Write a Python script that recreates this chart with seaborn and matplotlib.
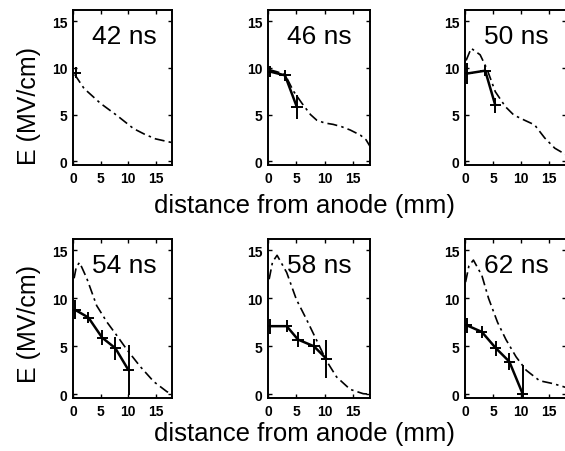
import matplotlib
matplotlib.use("Agg")
import matplotlib.pyplot as plt
import seaborn as sns

# panel labels
times = ["42 ns", "46 ns", "50 ns", "54 ns", "58 ns", "62 ns"]

# simulated field profiles (dash-dot curves)
sim_x = [
    [0.3, 2, 5, 8, 11, 13, 15, 16.5, 18],
    [0.3, 1.5, 3, 4.5, 6, 7.5, 8.6, 10, 11.5, 13, 14.5, 16.3, 17.3, 18],
    [0.2, 1.1, 2.7, 3.9, 5.4, 7.2, 8.7, 10.6, 12.4, 14.2, 16, 18],
    [0.2, 0.6, 1.2, 2.5, 4.3, 6.2, 8, 9.8, 12.2, 14.7, 17.1, 18],
    [0.2, 0.8, 1.6, 3.3, 5, 6.8, 8.6, 10.3, 12.1, 14.5, 16.8, 18],
    [0.1, 0.7, 1.5, 3, 4.2, 5.8, 7.3, 9.1, 10.9, 13.3, 15.7, 18],
]
sim_E = [
    [9.3, 7.8, 6.2, 4.9, 3.5, 2.9, 2.4, 2.2, 2.0],
    [9.8, 9.6, 9.3, 7.5, 6.2, 5.0, 4.4, 4.1, 3.95, 3.7, 3.35, 2.8, 2.3, 1.6],
    [10.8, 12.1, 11.4, 9.9, 7.45, 5.85, 4.95, 4.4, 3.9, 2.5, 1.4, 0.7],
    [12.1, 13.3, 13.75, 12.1, 9.25, 7.5, 6.1, 4.65, 2.9, 1.3, 0.25, 0.1],
    [12.0, 13.8, 14.5, 12.7, 9.9, 7.8, 5.6, 3.5, 1.8, 0.5, 0.05, 0.0],
    [11.7, 13.4, 14.0, 12.4, 10.0, 7.5, 5.7, 3.9, 2.5, 1.4, 1.1, 0.7],
]

# measured field (crosses with error bars)
meas_x = [
    [0.5],
    [0.4, 3.0, 5.1],
    [0.4, 3.6, 5.4],
    [0.4, 2.8, 5.3, 7.7, 10.1],
    [0.3, 3.3, 5.3, 8.1, 10.3],
    [0.3, 3.0, 5.5, 7.9, 10.3],
]
meas_E = [
    [9.5],
    [9.6, 9.2, 5.8],
    [9.4, 9.7, 6.0],
    [8.8, 8.0, 5.9, 4.8, 2.5],
    [7.1, 7.1, 5.7, 5.0, 3.7],
    [7.2, 6.5, 4.8, 3.4, 0.0],
]
meas_Eerr = [
    [0.6],
    [0.6, 0.6, 1.3],
    [1.1, 0.6, 0.8],
    [1.0, 0.6, 0.8, 1.2, 2.6],
    [0.8, 0.6, 0.8, 0.8, 2.0],
    [0.8, 0.6, 0.8, 0.9, 3.0],
]
x_err = 1.0

xticks = [0, 5, 10, 15]
yticks = [0, 5, 10, 15]

sns.set_style("ticks")
plt.rcParams["font.family"] = ["Liberation Sans", "DejaVu Sans"]
plt.rcParams["text.color"] = "black"
plt.rcParams["xtick.color"] = "black"
plt.rcParams["ytick.color"] = "black"

W, H = 565, 452
fig = plt.figure(figsize=(W / 100, H / 100), dpi=100)

# axes boxes in pixels: left, top, right, bottom
lefts = [73, 268, 465]
widths = [99, 102, 101]
rows = [(11, 166), (240, 399)]

for i, label in enumerate(times):
    r, c = divmod(i, 3)
    top, bot = rows[r]
    ax = fig.add_axes([lefts[c] / W, 1 - bot / H, widths[c] / W, (bot - top) / H])

    sns.lineplot(x=sim_x[i], y=sim_E[i], ax=ax, color="black", lw=1.2,
                 linestyle=(0, (6, 2.5, 1.5, 2.5)))
    if len(meas_x[i]) > 1:
        sns.lineplot(x=meas_x[i], y=meas_E[i], ax=ax, color="black", lw=1.8)
    ax.errorbar(meas_x[i], meas_E[i], xerr=x_err, yerr=meas_Eerr[i], fmt="none",
                ecolor="black", elinewidth=1.4, capsize=0)

    ax.set_xlim(0, 18)
    ax.set_ylim(-0.4, 16.2)
    ax.set_xticks(xticks)
    ax.set_yticks(yticks)
    ax.tick_params(direction="in", length=3, width=1, top=True, right=True,
                   labelsize=10, pad=4)
    for t in ax.get_xticklabels() + ax.get_yticklabels():
        t.set_fontweight("bold")
    for s in ax.spines.values():
        s.set_linewidth(1.4)
        s.set_color("black")
    ax.set_xlabel("")
    ax.set_ylabel("")
    ax.text(0.19, 0.79, label, transform=ax.transAxes, fontsize=19,
            ha="left", va="baseline")

fig.text(29 / W, 1 - 106 / H, "E (MV/cm)", rotation=90, ha="center",
         va="center", fontsize=18)
fig.text(29 / W, 1 - 324 / H, "E (MV/cm)", rotation=90, ha="center",
         va="center", fontsize=18)
fig.text(304 / W, 1 - 213 / H, "distance from anode (mm)", ha="center",
         va="baseline", fontsize=18.5)
fig.text(304 / W, 1 - 441 / H, "distance from anode (mm)", ha="center",
         va="baseline", fontsize=18.5)

fig.savefig("out.png", dpi=100)
